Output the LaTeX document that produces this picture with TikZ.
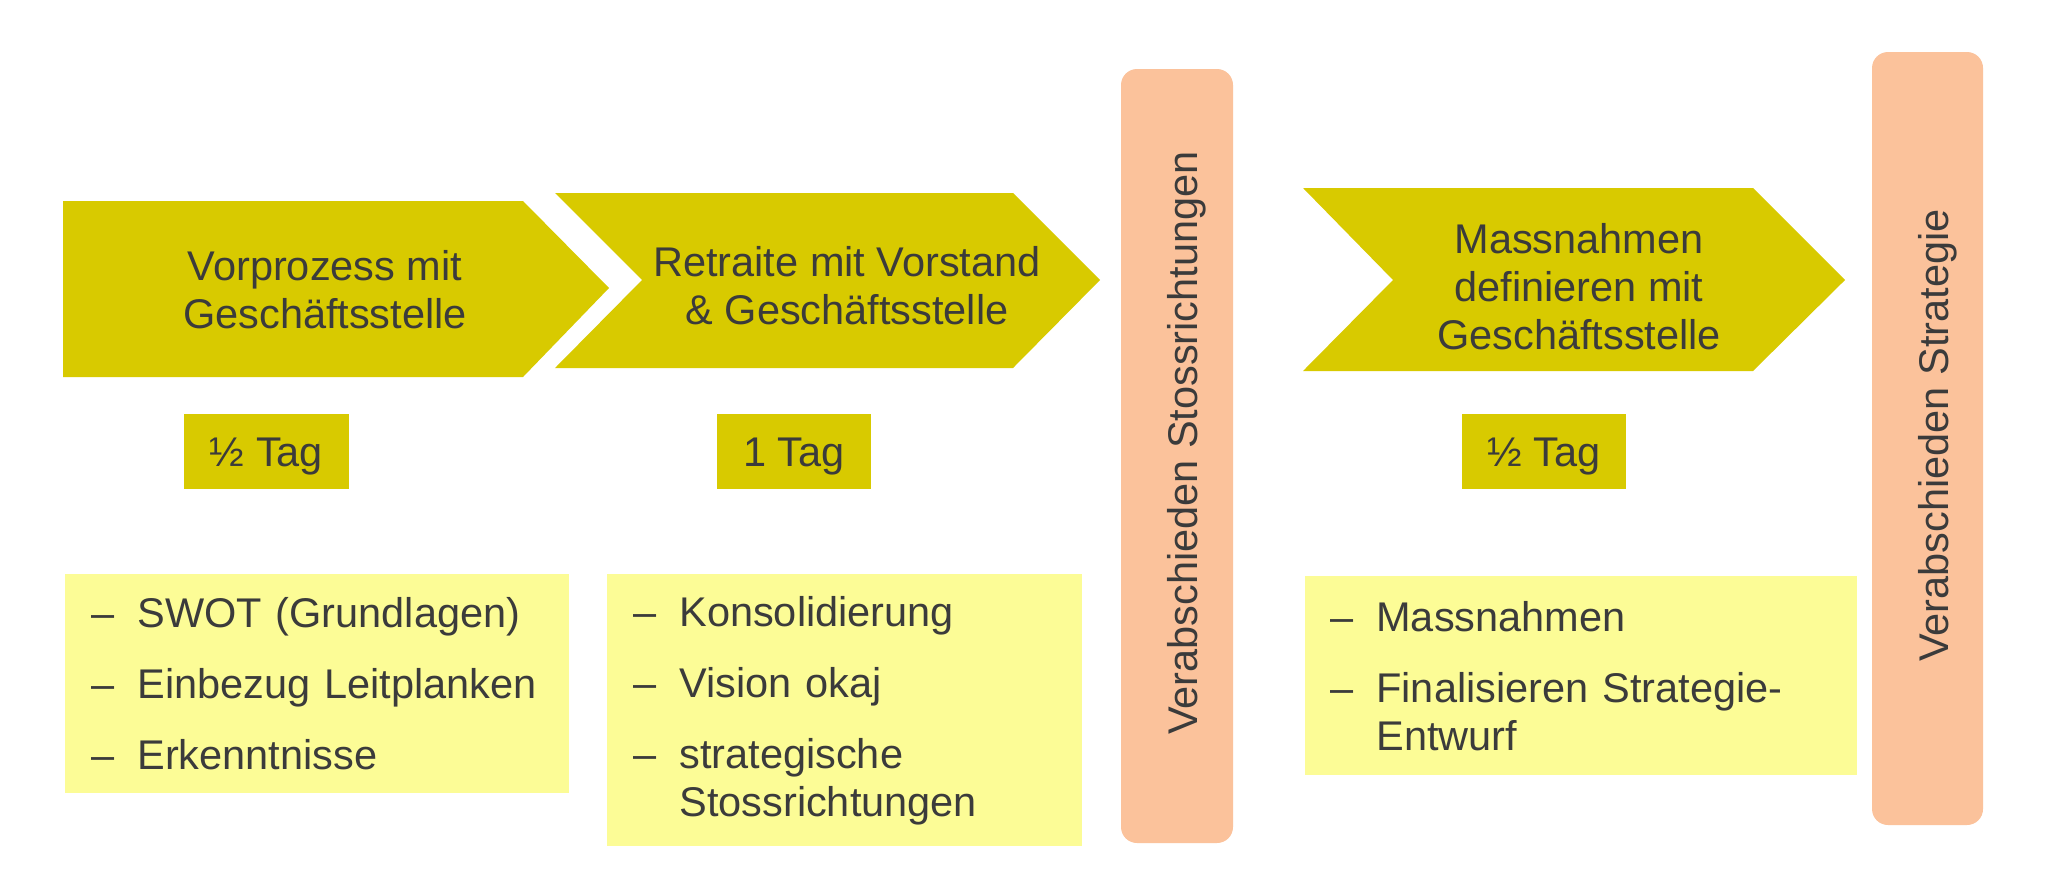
\documentclass[tikz,border=0pt]{standalone}
\usepackage{fontspec}
\setmainfont{Liberation Sans}
\definecolor{chev}{HTML}{D8CA00}
\definecolor{lightyel}{HTML}{FCFC96}
\definecolor{peach}{HTML}{FBC29B}
\definecolor{txt}{HTML}{3B3B3B}
\newcommand\dashitem[1]{\makebox[23pt][l]{–}#1}
\newcommand\contitem[1]{\hspace*{23pt}#1}
\begin{document}
\begin{tikzpicture}[x=0.5pt,y=-0.5pt,
  every node/.style={text=txt, font=\fontsize{20.75pt}{24pt}\selectfont, inner sep=0pt},
  chevfill/.style={fill=chev},
  chevtext/.style={align=center},
  tagbox/.style={fill=chev, minimum height=37.5pt, text height=15pt, text depth=0pt},
  listbox/.style={fill=lightyel, anchor=north west, align=left, inner ysep=0pt},
  pill/.style={fill=peach, rounded corners=8pt},
  pilltext/.style={rotate=90, anchor=base}
]
\useasboundingbox (0,0) rectangle (2048,884);

% chevrons
\fill[chevfill] (63,201) -- (523,201) -- (609,288) -- (523,377) -- (63,377) -- cycle;
\fill[chevfill] (555,193) -- (1013,193) -- (1100,280) -- (1013,368) -- (555,368) -- (642,280) -- cycle;
\fill[chevfill] (1303,188) -- (1753,188) -- (1845,280) -- (1753,371) -- (1303,371) -- (1393,280) -- cycle;

\node[chevtext] (c1) at (325,289.5) {Vorprozess mit\\Geschäftsstelle};
\node[chevtext] (c2) at (847,285.5) {Retraite mit Vorstand\\\& Geschäftsstelle};
\node[chevtext] (c3) at (1579,286.5) {Massnahmen\\definieren mit\\Geschäftsstelle};

% duration tags
\node[tagbox, minimum width=82.5pt] (tag1) at (266.5,451.5) {½ Tag};
\node[tagbox, minimum width=77pt] (tag2) at (794,451.5) {1 Tag};
\node[tagbox, minimum width=82pt] (tag3) at (1544,451.5) {½ Tag};

% lists
\node[listbox, minimum height=109.5pt, text width=226pt, inner xsep=13pt] (l1) at (65,574)
  {\dashitem{SWOT (Grundlagen)}\\[11.5pt]\dashitem{Einbezug Leitplanken}\\[11.5pt]\dashitem{Erkenntnisse}};
\node[listbox, minimum height=136pt, text width=211.5pt, inner xsep=13pt] (l2) at (607,574)
  {\dashitem{Konsolidierung}\\[11.5pt]\dashitem{Vision okaj}\\[11.5pt]\dashitem{strategische}\\\contitem{Stossrichtungen}};
\node[listbox, minimum height=99.5pt, text width=251pt, inner xsep=12.5pt] (l3) at (1305,576)
  {\dashitem{Massnahmen}\\[11.5pt]\dashitem{Finalisieren Strategie-}\\\contitem{Entwurf}};

% milestones
\node[pill, minimum width=56pt, minimum height=387pt] (p1) at (1177,456) {};
\node[pilltext] (p1t) at (1197,443) {Verabschieden Stossrichtungen};
\node[pill, minimum width=55.5pt, minimum height=386.5pt] (p2) at (1927.5,438.5) {};
\node[pilltext] (p2t) at (1948,435.5) {Verabschieden Strategie};
\end{tikzpicture}
\end{document}
